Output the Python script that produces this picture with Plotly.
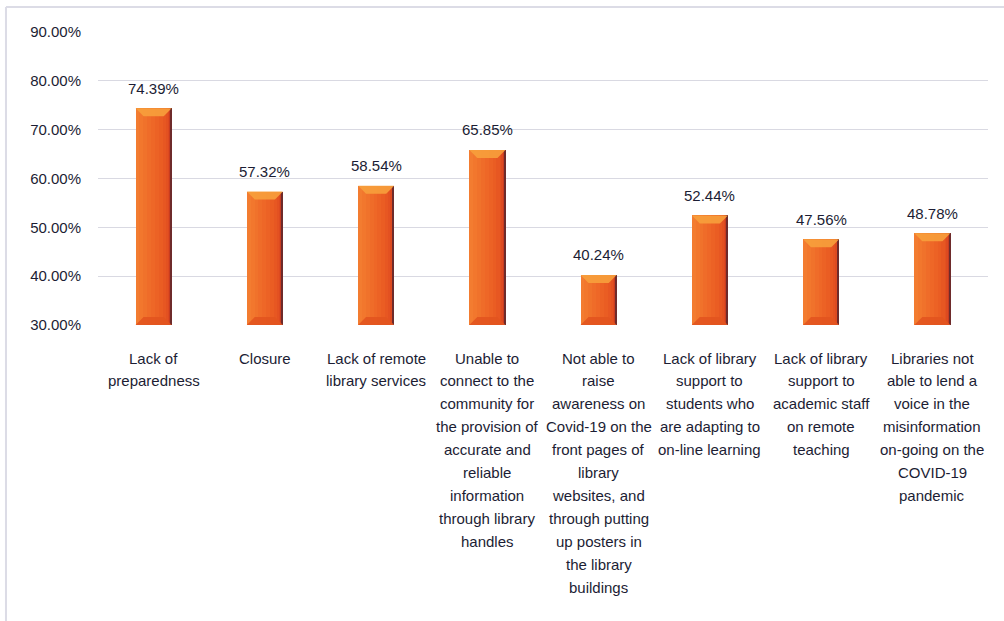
import plotly.graph_objects as go

# Survey results: challenges faced by libraries during COVID-19
categories = [
    "Lack of<br>preparedness",
    "Closure",
    "Lack of remote<br>library services",
    "Unable to<br>connect to the<br>community for<br>the provision of<br>accurate and<br>reliable<br>information<br>through library<br>handles",
    "Not able to<br>raise<br>awareness on<br>Covid-19 on the<br>front pages of<br>library<br>websites, and<br>through putting<br>up posters in<br>the library<br>buildings",
    "Lack of library<br>support to<br>students who<br>are adapting to<br>on-line learning",
    "Lack of library<br>support to<br>academic staff<br>on remote<br>teaching",
    "Libraries not<br>able to lend a<br>voice in the<br>misinformation<br>on-going on the<br>COVID-19<br>pandemic",
]
percentages = [74.39, 57.32, 58.54, 65.85, 40.24, 52.44, 47.56, 48.78]

y_min, y_max, y_step = 30, 90, 10

TEXT_COLOR = "#1c1d34"
GRID_COLOR = "#d9d9e2"
BAR_WIDTH = 0.324

x_idx = list(range(len(categories)))

fig = go.Figure()

# Bars drawn as vertical slices to give a left-to-right shading
slice_colors = [
    "#f37c30", "#f2772d", "#f0722b", "#ef6c29", "#ee6727", "#ec6225",
    "#ea5d23", "#e75722", "#e35121", "#dd4a20", "#c83c20", "#6e2b2b",
]
slice_fracs = [0.1, 0.1, 0.1, 0.1, 0.1, 0.1, 0.1, 0.08, 0.06, 0.04, 0.02, 0.03]
total = sum(slice_fracs)
start = -BAR_WIDTH / 2
for col, frac in zip(slice_colors, slice_fracs):
    w = BAR_WIDTH * frac / total
    fig.add_trace(go.Bar(
        x=x_idx, y=percentages, base=0, width=w, offset=start,
        marker=dict(color=col, line=dict(width=0)),
        hoverinfo="skip", showlegend=False,
    ))
    start += w

# Bevel highlights at top and bottom of every bar
px_per_unit = 293 / (y_max - y_min)
bevel_h = 8 / px_per_unit
bevel_d = BAR_WIDTH * 0.22
shapes = []
for i, v in zip(x_idx, percentages):
    x0, x1 = i - BAR_WIDTH / 2, i + BAR_WIDTH / 2
    shapes.append(dict(
        type="path", xref="x", yref="y",
        path=f"M {x0} {v} L {x1} {v} L {x1 - bevel_d} {v - bevel_h} L {x0 + bevel_d} {v - bevel_h} Z",
        fillcolor="#f7a03c", line=dict(width=0), opacity=0.9,
    ))
    shapes.append(dict(
        type="path", xref="x", yref="y",
        path=f"M {x0} {y_min} L {x1} {y_min} L {x1 - bevel_d} {y_min + bevel_h} L {x0 + bevel_d} {y_min + bevel_h} Z",
        fillcolor="#e2541f", line=dict(width=0), opacity=0.9,
    ))

# Outer frame (left and top edges)
frame_x = -0.1034
frame_y = 1.0855
shapes.append(dict(type="line", xref="paper", yref="paper",
                   x0=frame_x, x1=1.02, y0=frame_y, y1=frame_y,
                   line=dict(color="#dcdce6", width=2)))
shapes.append(dict(type="line", xref="paper", yref="paper",
                   x0=frame_x, x1=frame_x, y0=frame_y, y1=-1.1,
                   line=dict(color="#dcdce6", width=2)))

annotations = []
# Value labels above bars
for i, v in zip(x_idx, percentages):
    annotations.append(dict(
        x=i, y=v, xref="x", yref="y", text=f"{v:.2f}%",
        showarrow=False, yanchor="middle", yshift=20,
        font=dict(family="Liberation Sans", size=15, color=TEXT_COLOR),
    ))

# Category labels, one line at a time
line_step = 22.9
for i, cat in zip(x_idx, categories):
    for j, line in enumerate(cat.split("<br>")):
        annotations.append(dict(
            x=i, y=0, xref="x", yref="paper", text=line,
            showarrow=False, yanchor="middle", xanchor="center",
            yshift=-(33 + j * line_step),
            font=dict(family="Liberation Sans", size=15, color=TEXT_COLOR),
        ))

fig.update_layout(
    width=1004, height=621,
    margin=dict(l=98, r=16, t=32, b=296),
    paper_bgcolor="white", plot_bgcolor="white",
    barmode="overlay", bargap=0,
    shapes=shapes, annotations=annotations,
    xaxis=dict(range=[-0.5, len(categories) - 0.5], showticklabels=False,
               showgrid=False, zeroline=False, showline=False, fixedrange=True),
    yaxis=dict(range=[y_min, y_max], dtick=y_step, tick0=y_min,
               tickformat=".2f", ticksuffix="%",
               showgrid=True, gridcolor=GRID_COLOR, gridwidth=1,
               zeroline=False, showline=False, ticks="",
               ticklabelstandoff=16,
               tickfont=dict(family="Liberation Sans", size=15, color=TEXT_COLOR)),
)

fig.write_html("out.html")
